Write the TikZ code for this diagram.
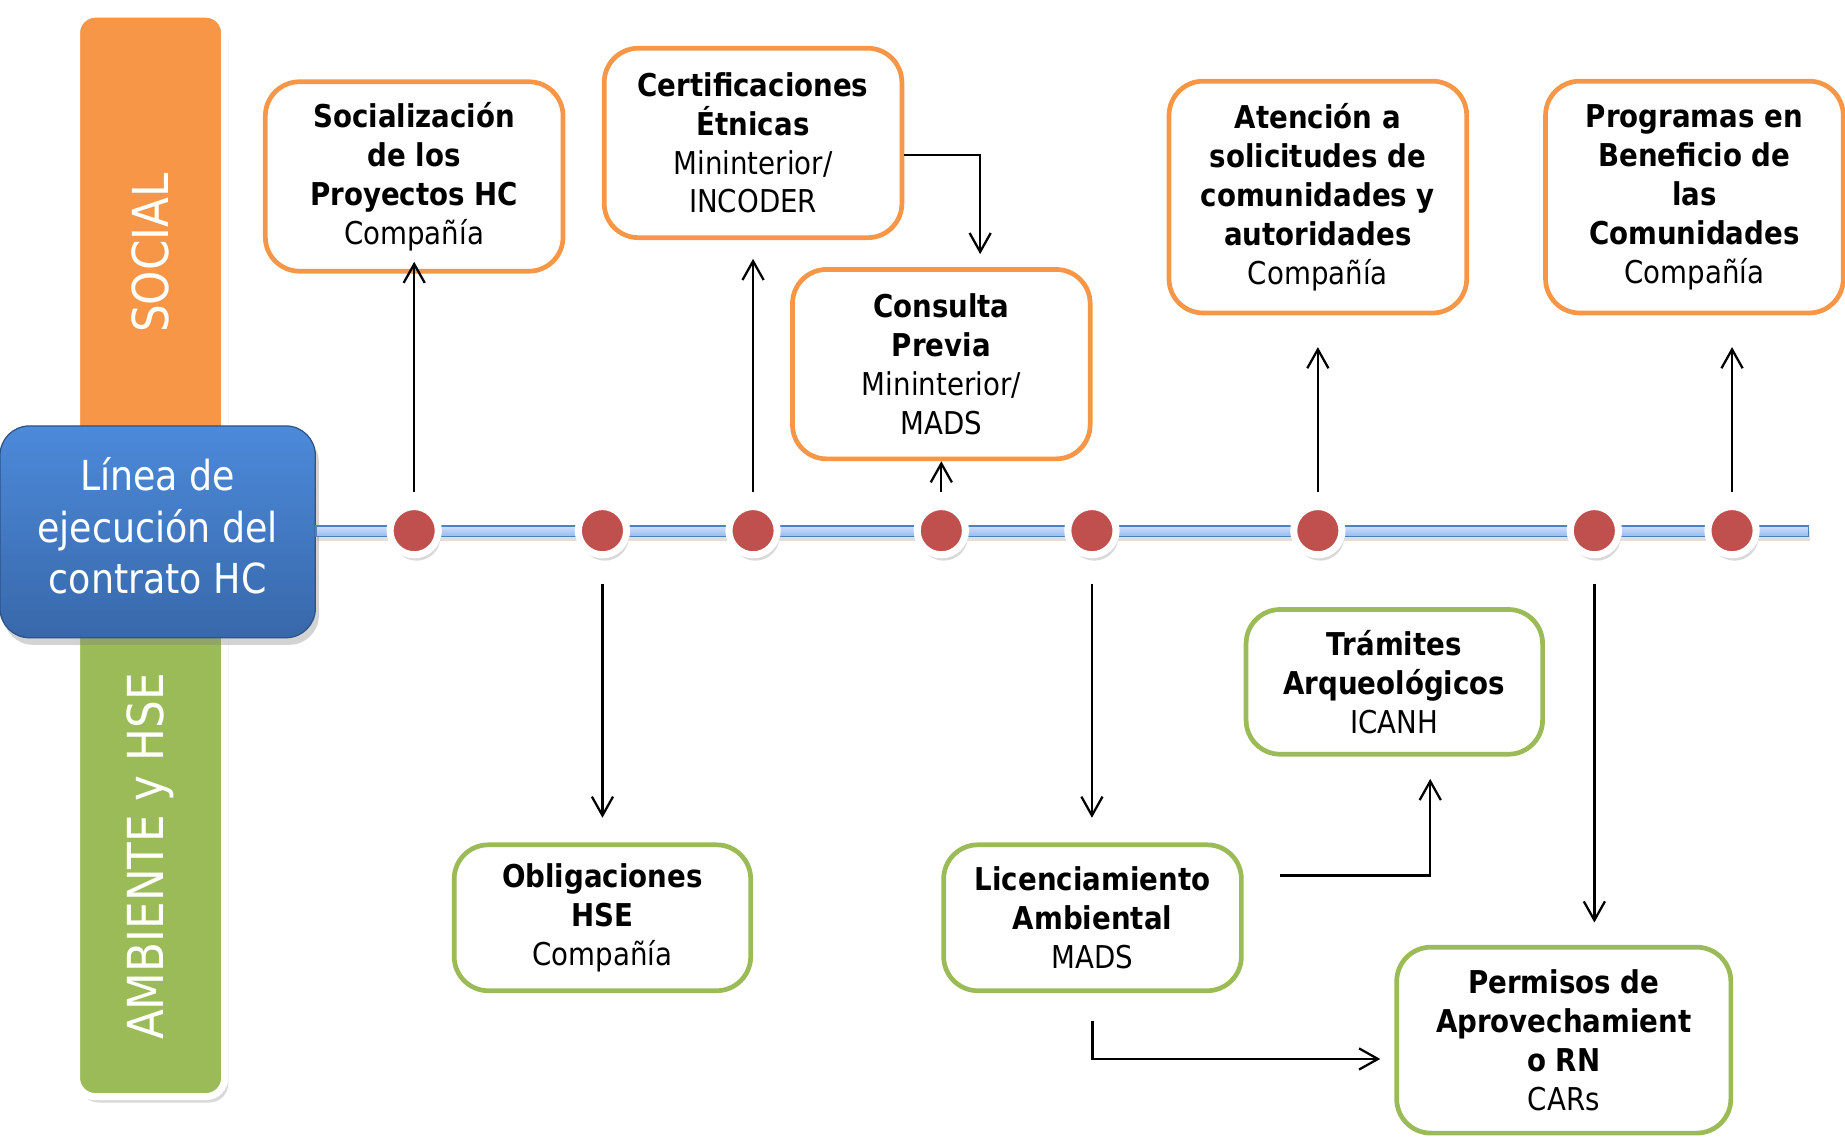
\documentclass[tikz,border=0pt]{standalone}
\usepackage{fontspec}
\setmainfont{DejaVu Sans}[FakeStretch=0.88]
\usetikzlibrary{positioning, calc, arrows.meta, shadows}
\definecolor{social}{RGB}{247,150,70}
\definecolor{ambiente}{RGB}{155,187,89}
\definecolor{lineatop}{RGB}{76,138,218}
\definecolor{lineabot}{RGB}{56,104,170}
\definecolor{hito}{RGB}{192,80,77}
\definecolor{ejetop}{RGB}{208,224,252}
\definecolor{ejebot}{RGB}{150,185,238}
\definecolor{ejeborde}{RGB}{79,129,189}
\begin{document}
\begin{tikzpicture}[x=0.1mm, y=-0.1mm, >={Straight Barb[length=1.6mm,width=1.8mm]},
    font=\fontsize{7.6}{9.4}\selectfont,
    caja/.style={draw=#1, line width=0.4mm, rounded corners=2.9mm, fill=white, align=center, inner sep=0pt, minimum width=25.3mm},
    barra/.style={draw=white, line width=0.6mm, fill=#1, rounded corners=1.6mm, rotate=90, minimum height=12.6mm, text=white, font=\fontsize{12}{14}\selectfont, drop shadow={opacity=0.3, shadow xshift=0.3mm, shadow yshift=-0.5mm}},
    hitostyle/.style={circle, fill=hito, draw=white, line width=0.6mm, minimum size=4.1mm, inner sep=0pt, drop shadow={opacity=0.3, shadow xshift=0.2mm, shadow yshift=-0.5mm}},
    flecha/.style={->, line width=0.55pt}]
    \useasboundingbox (0,0) rectangle (1568,967);
    \node[barra=social, minimum width=40.6mm] (barsocial) at (128,215) {SOCIAL};
    \node[barra=ambiente, minimum width=40.8mm] (barambiente) at (128,728) {AMBIENTE y HSE};
    \node[rounded corners=2.5mm, top color=lineatop, bottom color=lineabot, draw=lineabot!80!black, line width=0.3pt, minimum width=26.8mm, minimum height=18mm, text=white, font=\fontsize{10}{12.5}\selectfont, drop shadow={opacity=0.35, shadow xshift=0.3mm, shadow yshift=-0.6mm}] (linea) at (134,452) {\raisebox{0.9mm}{\begin{tabular}{@{}c@{}}Línea de\\ejecución del\\contrato HC\end{tabular}}};
    \coordinate (fin) at (1537,451);
    \draw[top color=ejetop, bottom color=ejebot, draw=ejeborde, line width=0.12mm, drop shadow={opacity=0.25, shadow xshift=0.1mm, shadow yshift=-0.4mm}] ([yshift=0.5mm]linea.east) rectangle ([yshift=-0.5mm]fin);
    \foreach \x [count=\i] in {352,512,640,800,928,1120,1355,1472}
      \node[hitostyle] (d\i) at (\x,451) {};

    \node[caja=social, minimum height=16.1mm] (soc) at (352,150) {\textbf{Socialización}\\\textbf{de los}\\\textbf{Proyectos HC}\\Compañía};
    \node[caja=social, minimum height=16.1mm] (cert) at (640,121.5) {\textbf{Certificaciones}\\\textbf{Étnicas}\\Mininterior/\\INCODER};
    \node[caja=social, minimum height=16.1mm] (cons) at (800,309.5) {\textbf{Consulta}\\\textbf{Previa}\\Mininterior/\\MADS};
    \node[caja=social, minimum height=19.7mm] (aten) at (1120,167.5) {\textbf{Atención a}\\\textbf{solicitudes de}\\\textbf{comunidades y}\\\textbf{autoridades}\\Compañía};
    \node[caja=social, minimum height=19.7mm] (prog) at (1440,167.5) {\textbf{Programas en}\\\textbf{Beneficio de}\\\textbf{las}\\\textbf{Comunidades}\\Compañía};
    \node[caja=ambiente, minimum width=25.2mm, minimum height=12.4mm] (oblig) at (512,780) {\textbf{Obligaciones}\\\textbf{HSE}\\Compañía};
    \node[caja=ambiente, minimum height=12.4mm] (lic) at (928.5,780) {\textbf{Licenciamiento}\\\textbf{Ambiental}\\MADS};
    \node[caja=ambiente, minimum width=25.2mm, minimum height=12.3mm] (tram) at (1185,579.5) {\textbf{Trámites}\\\textbf{Arqueológicos}\\ICANH};
    \node[caja=ambiente, minimum width=28.4mm, minimum height=15.8mm] (perm) at (1329,884) {\textbf{Permisos de}\\\textbf{Aprovechamient}\\\textbf{o RN}\\CARs};

    \draw[flecha, shorten <=0.95mm, shorten >=-1mm] (d1) -- (d1 |- soc.south);
    \draw[flecha, shorten <=0.95mm, shorten >=1.6mm] (d3) -- (d3 |- cert.south);
    \draw[flecha, shorten <=0.95mm] (d4) -- (d4 |- cons.south);
    \draw[flecha, shorten <=0.95mm, shorten >=2.7mm] (d6) -- (d6 |- aten.south);
    \draw[flecha, shorten <=0.95mm, shorten >=2.7mm] (d8) -- (d8 |- prog.south);
    \draw[flecha, shorten <=2.15mm, shorten >=2.1mm] (d2) -- (d2 |- oblig.north);
    \draw[flecha, shorten <=2.15mm, shorten >=2.1mm] (d5) -- (d5 |- lic.north);
    \draw[flecha, shorten <=2.15mm, shorten >=1.9mm] (d7) -- (d7 |- perm.north);
    \draw[flecha, shorten >=1.1mm] ([yshift=-1mm]cert.east) -| ([xshift=3.3mm]cons.north);
    \draw[flecha, shorten <=3.1mm, shorten >=1.9mm] ([yshift=3.6mm]lic.east) -| ([xshift=3.05mm]tram.south);
    \draw[flecha, shorten <=2.35mm, shorten >=1.2mm] (lic.south) |- ([yshift=-1.6mm]perm.west);
\end{tikzpicture}
\end{document}
